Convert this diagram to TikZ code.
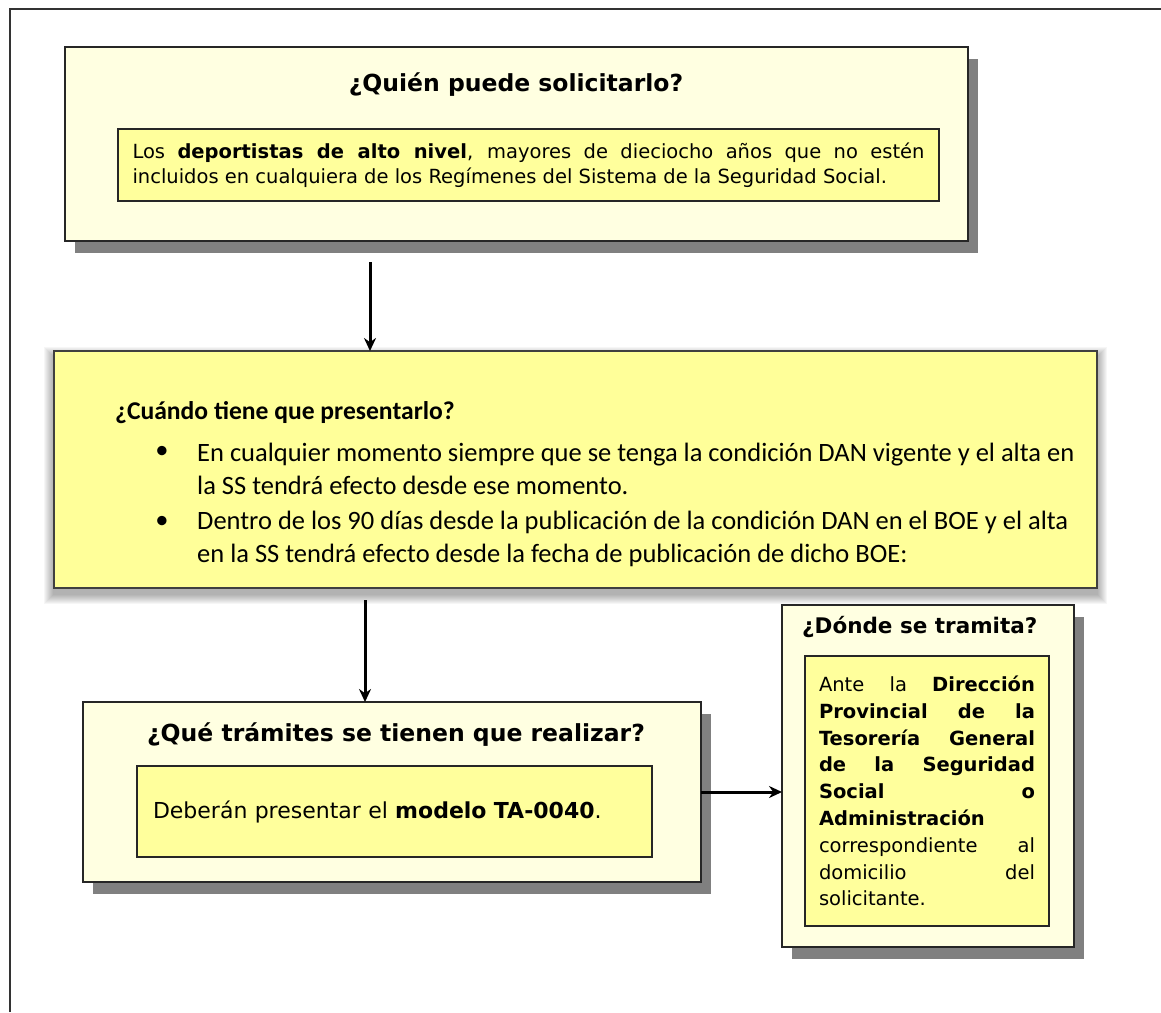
\documentclass[tikz,border=0pt]{standalone}
\usepackage{fontspec}
\usepackage{tikz}
\usepackage{xcolor}
\usetikzlibrary{shadows,arrows.meta}
\newfontfamily\tahoma{DejaVu Sans}
\newfontfamily\calibri{Carlito}
\definecolor{tooltip}{HTML}{FFFFE1}
\definecolor{notayel}{HTML}{FFFF9C}
\definecolor{wordyel}{HTML}{FFFF99}
\definecolor{sombra}{HTML}{808080}

\begin{document}
\begin{tikzpicture}[x=1pt,y=-1pt,
    caja/.style={draw=black!85,line width=1.5pt,fill=tooltip,inner sep=0pt,outer sep=0pt,
        drop shadow={shadow xshift=10pt,shadow yshift=-12pt,fill=sombra,opacity=1}},
    nota/.style={draw=black!85,line width=1.5pt,fill=notayel,outer sep=0pt,
        font=\tahoma\fontsize{19.5}{25}\selectfont},
    titulo/.style={font=\tahoma\bfseries\fontsize{23.5}{28}\selectfont,inner sep=0pt},
    word/.style={font=\calibri\fontsize{26.5}{33}\selectfont,inner sep=0pt},
    flecha/.style={-{Stealth[length=13pt,width=12pt]},line width=3pt}]
    \useasboundingbox (0,0) rectangle (1161,1012);
    \draw[line width=1.5pt,black!80] (10,1012) -- (10,9) -- (1161,9);

    \node[caja,minimum width=903pt,minimum height=194pt] (quien) at (516.5,144) {};
    \node[titulo] (quienTit) at (516,85) {¿Quién puede solicitarlo?};
    \node[nota,text width=792pt,inner xsep=14.5pt,minimum height=72pt,align=justify] (quienNota) at (528.5,165)
        {Los \textbf{deportistas de alto nivel}, mayores de dieciocho años que no estén\linebreak
         incluidos en cualquiera de los Regímenes del Sistema de la Seguridad Social.};

    \foreach \r in {1,...,10}
        \fill[black,opacity=0.035] ([shift={(-\r,6-\r)}]54,351) rectangle ([shift={(\r,6+\r)}]1097,588);
    \node[draw=black!75,line width=1.5pt,fill=wordyel,minimum width=1043pt,minimum height=237pt,
        inner sep=0pt,outer sep=0pt] (cuando) at (575.5,469.5) {};
    \node[word,font=\calibri\bfseries\fontsize{25.6}{30}\selectfont,anchor=west] (cuandoTit) at (115,413)
        {¿Cuándo tiene que presentarlo?};
    \node[word] (b1) at (162,452) {•};
    \node[word] (b2) at (162,522) {•};
    \node[word,anchor=west,align=left] (cuando1) at (197,468.5)
        {En cualquier momento siempre que se tenga la condición DAN vigente y el alta en\\
         la SS tendrá efecto desde ese momento.};
    \node[word,anchor=west,align=left] (cuando2) at (197,539)
        {Dentro de los 90 días desde la publicación de la condición DAN en el BOE y el alta\\
         en la SS tendrá efecto desde la fecha de publicación de dicho BOE:};

    \node[caja,minimum width=618pt,minimum height=180pt] (tramites) at (392,792) {};
    \node[titulo] (tramitesTit) at (396,735) {¿Qué trámites se tienen que realizar?};
    \node[nota,text width=483pt,inner xsep=16pt,minimum height=91pt,align=left,
        font=\tahoma\fontsize{22}{26}\selectfont] (tramitesNota) at (394.5,811.5)
        {Deberán presentar el \textbf{modelo TA-0040}.};

    \node[caja,minimum width=292pt,minimum height=342pt] (donde) at (928,776) {};
    \node[titulo,font=\tahoma\bfseries\fontsize{21.5}{26}\selectfont,anchor=west] (dondeTit) at (802,627)
        {¿Dónde se tramita?};
    \node[nota,text width=216pt,inner xsep=14pt,minimum height=270pt,align=justify,
        font=\tahoma\fontsize{19.5}{26.8}\selectfont] (dondeNota) at (927,791)
        {Ante la \textbf{Dirección\linebreak Provincial de la\linebreak Tesorería General\linebreak
         de la Seguridad\linebreak Social o\linebreak Administración}\linebreak
         correspondiente al\linebreak domicilio del\linebreak solicitante.};

    \draw[flecha] ([shift={(-146.5,21)}]quien.south) coordinate (a1) -- (a1 |- cuando.north);
    \draw[flecha] ([shift={(-210.5,12)}]cuando.south) coordinate (a2) -- (a2 |- tramites.north);
    \draw[flecha] (tramites.east) -- (tramites.east -| donde.west);
\end{tikzpicture}
\end{document}
